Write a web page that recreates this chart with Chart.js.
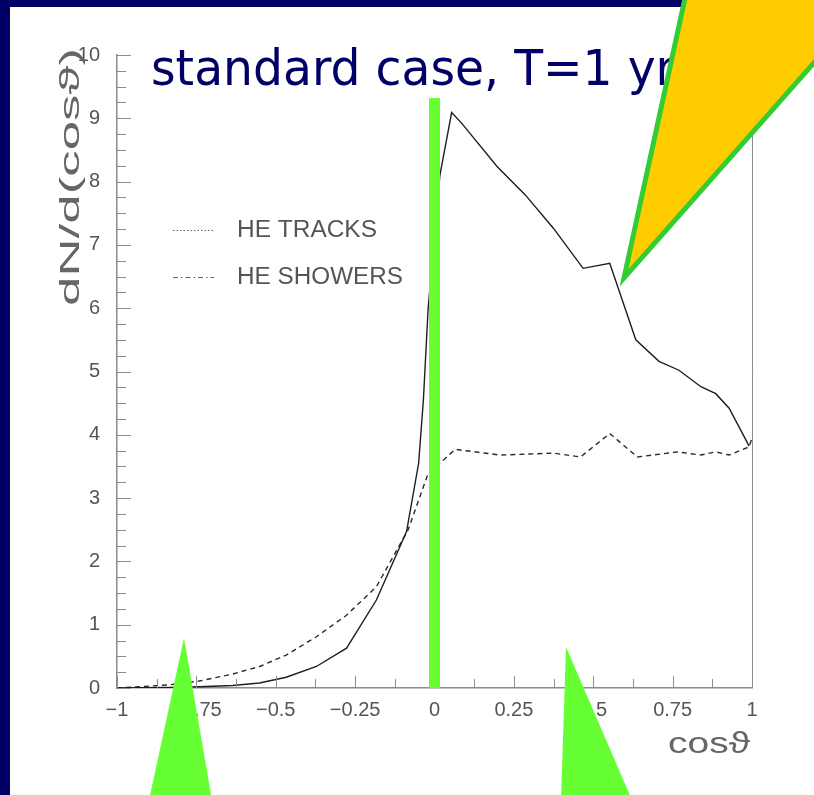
<!DOCTYPE html>
<html>
<head>
<meta charset="utf-8">
<script src="https://cdn.jsdelivr.net/npm/chart.js@4.4.0/dist/chart.umd.min.js"></script>
<style>
html, body { margin: 0; padding: 0; background: #000066; overflow: hidden; }
</style>
</head>
<body>
<canvas id="myChart" width="814" height="795"></canvas>
<script>
// solid curve
var cosTracks = [-1, -0.93, -0.835, -0.741, -0.636, -0.551, -0.467, -0.372, -0.277, -0.183, -0.088, -0.05, -0.035, -0.02, 0.017, 0.03, 0.054,
	0.086, 0.197, 0.286, 0.375, 0.468, 0.552, 0.634, 0.707, 0.770, 0.839, 0.886, 0.928, 0.991];
var tracks = [0, 0.005, 0.01, 0.02, 0.04, 0.08, 0.17, 0.34, 0.63, 1.39, 2.47, 3.55, 4.55, 6.0, 8.1, 8.45, 9.09,
	8.92, 8.24, 7.79, 7.26, 6.63, 6.71, 5.50, 5.16, 5.02, 4.76, 4.65, 4.42, 3.82];

// dashed curve
var cosShowers = [-1, -0.93, -0.835, -0.741, -0.636, -0.551, -0.467, -0.372, -0.277, -0.183, -0.083, -0.02, 0.017, 0.065,
	0.207, 0.375, 0.46, 0.552, 0.639, 0.765, 0.839, 0.886, 0.928, 0.991, 1.0];
var showers = [0, 0.02, 0.05, 0.11, 0.22, 0.34, 0.52, 0.81, 1.15, 1.60, 2.50, 3.39, 3.55, 3.77,
	3.68, 3.71, 3.65, 4.02, 3.65, 3.73, 3.68, 3.73, 3.68, 3.81, 3.95];

var legendLabels = ["HE TRACKS", "HE SHOWERS"];
var chartTitle = "standard case, T=1 yr";
var xTitle = "cos\u03D1";
var yTitle = "dN/d(cos\u03D1)";

function toPoints(xs, ys) {
	var out = [];
	for (var i = 0; i < xs.length; i++) {
		out.push({ x: xs[i], y: ys[i] });
	}
	return out;
}

function fmt(v) {
	return String(v).replace("-", "\u2212");
}

// text squeezed or stretched to a given width
function fitText(ctx, text, x, y, w) {
	var m = ctx.measureText(text).width;
	ctx.save();
	ctx.translate(x, y);
	ctx.scale(w / m, 1);
	ctx.fillText(text, 0, 0);
	ctx.restore();
}

var slidePlugin = {
	id: "slide",
	beforeDraw: function(chart) {
		var ctx = chart.ctx;
		ctx.save();
		ctx.fillStyle = "#000066";
		ctx.fillRect(0, 0, chart.width, chart.height);
		ctx.fillStyle = "#ffffff";
		ctx.fillRect(10, 7, chart.width - 10, chart.height - 7);
		ctx.restore();
	},
	afterDraw: function(chart) {
		var ctx = chart.ctx;
		var a = chart.chartArea;
		var xs = chart.scales.x, ys = chart.scales.y;
		ctx.save();

		// inward ticks
		ctx.strokeStyle = "#8c8c8c";
		ctx.lineWidth = 1;
		ctx.beginPath();
		for (var v = 0; v <= 10.001; v += 0.25) {
			var py = Math.round(ys.getPixelForValue(v)) + 0.5;
			var len = Math.abs(v - Math.round(v)) < 1e-6 ? 14 : 9;
			ctx.moveTo(a.left, py);
			ctx.lineTo(a.left + len, py);
		}
		for (var k = 0; k <= 16; k++) {
			var xv = -1 + k * 0.125;
			var px = Math.round(xs.getPixelForValue(xv)) + 0.5;
			var l2 = k % 2 === 0 ? 12 : 9;
			ctx.moveTo(px, a.bottom);
			ctx.lineTo(px, a.bottom - l2);
		}
		// right side of the frame
		ctx.moveTo(a.right + 0.5, a.top);
		ctx.lineTo(a.right + 0.5, a.bottom);
		ctx.stroke();

		// legend
		ctx.strokeStyle = "#666";
		ctx.lineWidth = 1.2;
		ctx.setLineDash([1.5, 2]);
		ctx.beginPath();
		ctx.moveTo(173, 230.5);
		ctx.lineTo(214, 230.5);
		ctx.stroke();
		ctx.setLineDash([5, 3, 1.5, 3]);
		ctx.beginPath();
		ctx.moveTo(173, 277.5);
		ctx.lineTo(214, 277.5);
		ctx.stroke();
		ctx.setLineDash([]);
		ctx.fillStyle = "#555";
		ctx.font = "23px 'Liberation Sans', Arial, sans-serif";
		ctx.textBaseline = "middle";
		fitText(ctx, legendLabels[0], 237, 231, 140);
		fitText(ctx, legendLabels[1], 237, 278, 166);

		// axis titles
		ctx.textBaseline = "alphabetic";
		ctx.font = "29px 'Liberation Sans', Arial, sans-serif";
		ctx.fillStyle = "#666";
		fitText(ctx, xTitle, 668, 753, 82);
		ctx.save();
		ctx.translate(79, 306);
		ctx.rotate(-Math.PI / 2);
		ctx.font = "27px 'Liberation Sans', Arial, sans-serif";
		fitText(ctx, yTitle, 0, 0, 258);
		ctx.restore();

		// green marker at cos = 0
		var x0 = xs.getPixelForValue(0);
		var yTop = ys.getPixelForValue(9.32);
		ctx.fillStyle = "#66ff33";
		ctx.fillRect(x0 - 5.5, yTop, 11, a.bottom - yTop);

		// green pointers at the bottom
		ctx.beginPath();
		ctx.moveTo(184, 638);
		ctx.lineTo(212, 800);
		ctx.lineTo(149, 800);
		ctx.closePath();
		ctx.fill();
		ctx.beginPath();
		ctx.moveTo(566, 647);
		ctx.lineTo(632, 800);
		ctx.lineTo(561, 800);
		ctx.closePath();
		ctx.fill();

		// title
		ctx.fillStyle = "#000066";
		ctx.font = "50px 'DejaVu Sans', sans-serif";
		ctx.textBaseline = "alphabetic";
		fitText(ctx, chartTitle, 151, 85, 524);

		// yellow callout
		ctx.beginPath();
		ctx.moveTo(624, 278);
		ctx.lineTo(689, -20);
		ctx.lineTo(887, -20);
		ctx.closePath();
		ctx.fillStyle = "#ffcc00";
		ctx.fill();
		ctx.lineJoin = "miter";
		ctx.lineWidth = 5;
		ctx.strokeStyle = "#33cc33";
		ctx.stroke();

		ctx.restore();
	}
};

var ctx = document.getElementById("myChart");

var myChart = new Chart(ctx, {
	type: "scatter",
	data: {
		datasets: [
			{
				label: legendLabels[0],
				data: toPoints(cosTracks, tracks),
				showLine: true,
				borderColor: "#1e1e1e",
				borderWidth: 1.4,
				pointRadius: 0,
				fill: false,
				tension: 0
			},
			{
				label: legendLabels[1],
				data: toPoints(cosShowers, showers),
				showLine: true,
				borderColor: "#2a2a2a",
				borderWidth: 1.4,
				borderDash: [5, 4],
				pointRadius: 0,
				fill: false,
				tension: 0
			}
		]
	},
	options: {
		responsive: false,
		animation: false,
		devicePixelRatio: 1,
		layout: { padding: { left: 0, right: 62, top: 55, bottom: 0 } },
		plugins: {
			legend: { display: false },
			tooltip: { enabled: false }
		},
		scales: {
			x: {
				type: "linear",
				min: -1,
				max: 1,
				grid: { display: false, drawTicks: false },
				border: { display: true, color: "#8c8c8c", width: 1.5 },
				ticks: {
					stepSize: 0.25,
					padding: 10,
					color: "#555",
					maxRotation: 0,
					autoSkip: false,
					font: { family: "'Liberation Sans', Arial, sans-serif", size: 20 },
					callback: function(v) { return fmt(v); }
				},
				afterFit: function(s) { s.height = 107; }
			},
			y: {
				min: 0,
				max: 10,
				grid: { display: false, drawTicks: false },
				border: { display: true, color: "#8c8c8c", width: 1.5 },
				ticks: {
					stepSize: 1,
					padding: 17,
					color: "#555",
					font: { family: "'Liberation Sans', Arial, sans-serif", size: 20 }
				},
				afterFit: function(s) { s.width = 117; }
			}
		}
	},
	plugins: [slidePlugin]
});
</script>
</body>
</html>
